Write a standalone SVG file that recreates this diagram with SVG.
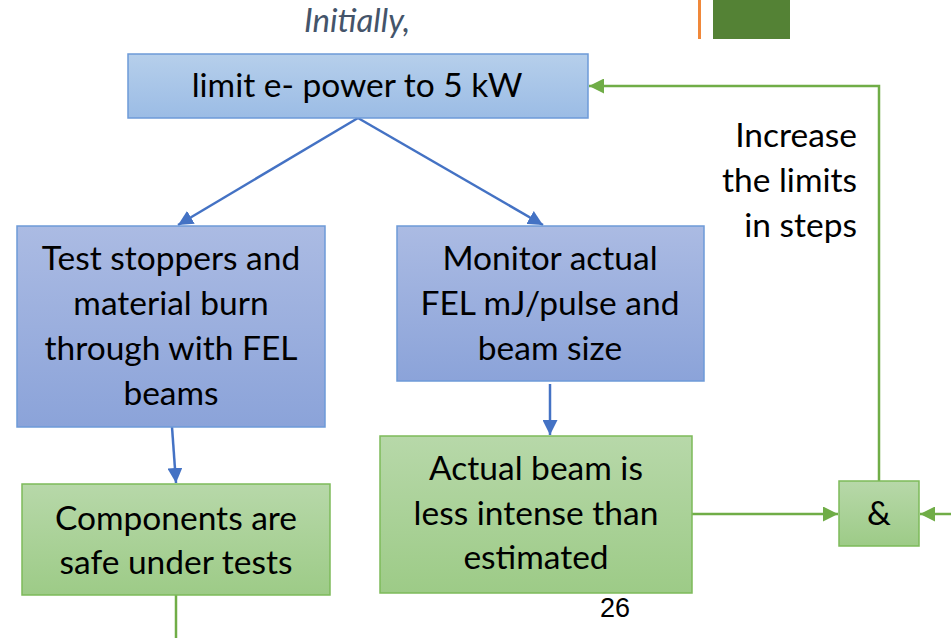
<svg xmlns="http://www.w3.org/2000/svg" width="951" height="638" viewBox="0 0 951 638">
<defs>
<linearGradient id="gTop" x1="0" y1="0" x2="0" y2="1"><stop offset="0" stop-color="#b6cfeb"/><stop offset="1" stop-color="#9bbce5"/></linearGradient>
<linearGradient id="gBlue" x1="0" y1="0" x2="0" y2="1"><stop offset="0" stop-color="#abbbe3"/><stop offset="1" stop-color="#8ba3d9"/></linearGradient>
<linearGradient id="gGreen" x1="0" y1="0" x2="0" y2="1"><stop offset="0" stop-color="#b7d8a9"/><stop offset="1" stop-color="#9dcb87"/></linearGradient>
<marker id="aBlue" viewBox="0 0 10 10" refX="10" refY="5" markerWidth="6" markerHeight="6" orient="auto" markerUnits="strokeWidth"><path d="M0,0 L10,5 L0,10 z" fill="#4472c4"/></marker>
<marker id="aGreen" viewBox="0 0 10 10" refX="10" refY="5" markerWidth="6" markerHeight="6" orient="auto" markerUnits="strokeWidth"><path d="M0,0 L10,5 L0,10 z" fill="#70ad47"/></marker>
</defs>
<style>
.t{font-family:Lato,"Open Sans","Liberation Sans",sans-serif;font-size:33.5px;fill:#000;text-anchor:middle}
.r{text-anchor:end}
.bx{stroke:#6d9ad8;stroke-width:1.5}
.gx{stroke:#7dba5a;stroke-width:1.5}
.cb{fill:none;stroke:#4472c4;stroke-width:2.5}
.cg{fill:none;stroke:#70ad47;stroke-width:2.5}
</style>
<rect x="698" y="0" width="3" height="39" fill="#f0883a"/>
<rect x="713" y="0" width="77" height="39" fill="#548235"/>
<text x="357" y="32" font-family="Lato,'Open Sans',sans-serif" font-style="italic" font-size="33" fill="#44546a" text-anchor="middle">Initially,</text>
<g id="connectors">
<path class="cb" d="M358,118 L178,225" marker-end="url(#aBlue)"/>
<path class="cb" d="M358,118 L543,225" marker-end="url(#aBlue)"/>
<path class="cb" d="M172,427 L176,483" marker-end="url(#aBlue)"/>
<path class="cb" d="M550,384 L550,435" marker-end="url(#aBlue)"/>
<path class="cg" d="M692,514 L838,514" marker-end="url(#aGreen)"/>
<path class="cg" d="M951,514 L920,514" marker-end="url(#aGreen)"/>
<path class="cg" d="M879,481 L879,86 L589,86" marker-end="url(#aGreen)"/>
<path class="cg" d="M176,595 L176,638"/>
</g>
<g id="n-limit">
<rect class="bx" x="128" y="54" width="460" height="64" fill="url(#gTop)"/>
<text class="t" x="357" y="97">limit e- power to 5 kW</text>
</g>
<g id="n-test">
<rect class="bx" x="17" y="226" width="308" height="201" fill="url(#gBlue)"/>
<text class="t" x="171" y="270">Test stoppers and</text>
<text class="t" x="171" y="315">material burn</text>
<text class="t" x="171" y="360">through with FEL</text>
<text class="t" x="171" y="405">beams</text>
</g>
<g id="n-monitor">
<rect class="bx" x="397" y="226" width="307" height="155" fill="url(#gBlue)"/>
<text class="t" x="550" y="270">Monitor actual</text>
<text class="t" x="550" y="315">FEL mJ/pulse and</text>
<text class="t" x="550" y="360">beam size</text>
</g>
<g id="n-components">
<rect class="gx" x="22" y="484" width="308" height="111" fill="url(#gGreen)"/>
<text class="t" x="176" y="530">Components are</text>
<text class="t" x="176" y="574">safe under tests</text>
</g>
<g id="n-actual">
<rect class="gx" x="380" y="436" width="312" height="157" fill="url(#gGreen)"/>
<text class="t" x="536" y="480">Actual beam is</text>
<text class="t" x="536" y="525">less intense than</text>
<text class="t" x="536" y="569">estimated</text>
</g>
<g id="n-and">
<rect class="gx" x="839" y="481" width="80" height="65" fill="url(#gGreen)"/>
<text class="t" x="879" y="525">&amp;</text>
</g>
<g id="label-increase">
<text class="t r" x="857" y="147">Increase</text>
<text class="t r" x="857" y="192">the limits</text>
<text class="t r" x="857" y="237">in steps</text>
</g>
<text x="615" y="617" font-family="'Liberation Sans',Arial,sans-serif" font-size="27" fill="#000" text-anchor="middle">26</text>
</svg>
